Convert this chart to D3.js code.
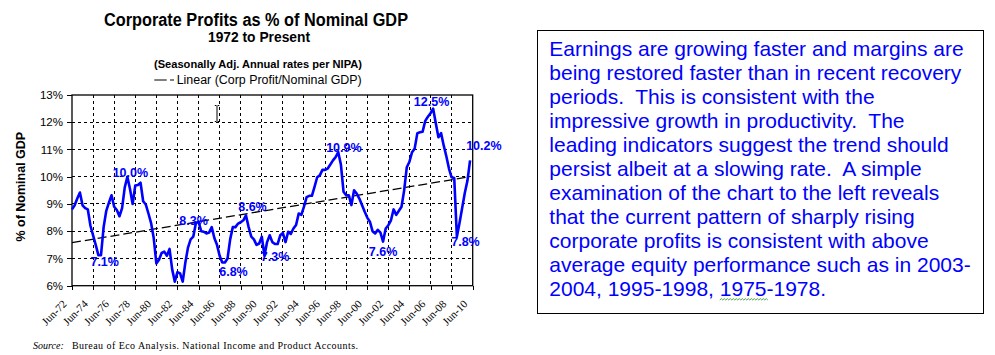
<!DOCTYPE html>
<html><head><meta charset="utf-8">
<script src="https://cdn.jsdelivr.net/npm/d3@7"></script>
<style>
body{margin:0;background:#fff;}
svg{display:block;}
</style></head>
<body>
<svg id="c" width="995" height="355"></svg>
<script>
// ---------------- data ----------------
const xTickLabels = ["Jun-72","Jun-74","Jun-76","Jun-78","Jun-80","Jun-82","Jun-84","Jun-86","Jun-88","Jun-90",
  "Jun-92","Jun-94","Jun-96","Jun-98","Jun-00","Jun-02","Jun-04","Jun-06","Jun-08","Jun-10"];
// quarterly corporate profits as % of nominal GDP, starting Jun-72
const profitPct = [
  8.8, 8.95, 9.2, 9.42, 8.95, 8.85, 8.8, 8.2,
  7.85, 7.5, 7.12, 7.12, 8.15, 8.75, 9.05, 9.32,
  8.9, 8.78, 8.55, 8.85, 9.6, 10.0, 9.55, 9.0,
  9.68, 9.7, 9.78, 9.1, 8.98, 8.65, 8.3, 7.75,
  6.82, 6.95, 7.2, 7.25, 7.1, 7.35, 6.6, 6.15,
  6.5, 6.45, 6.15, 6.85, 7.4, 7.7, 7.8, 8.3,
  8.35, 8.0, 7.98, 7.92, 7.95, 8.15, 7.75, 7.5,
  7.1, 6.85, 6.85, 7.0, 7.7, 8.15, 8.15, 8.28,
  8.33, 8.4, 8.58, 8.15, 7.8, 7.7, 7.5, 7.55,
  7.8, 7.1, 7.6, 7.85, 7.6, 7.53, 7.53, 7.85,
  7.93, 7.6, 7.98, 7.9, 8.1, 8.23, 8.65, 8.6,
  8.9, 9.25, 9.3, 9.3, 9.63, 9.98, 10.05, 10.25,
  10.25, 10.3, 10.45, 10.6, 10.72, 10.9, 10.45, 9.45,
  9.32, 9.32, 8.96, 9.5, 9.38, 9.2, 8.96, 8.72,
  8.5, 8.35, 8.0, 7.92, 8.05, 7.95, 7.62, 8.1,
  8.22, 8.4, 8.8, 8.6, 8.75, 8.9, 9.5, 10.35,
  10.55, 10.9, 11.04, 11.6, 11.63, 11.65, 12.05, 12.2,
  12.33, 12.5, 11.96, 11.45, 11.6, 11.15, 10.75, 10.3,
  9.98, 9.95, 7.8, 8.3, 8.85, 9.4, 9.85, 10.6
];
// linear trend line endpoints (first and last quarter)
const trendPct = [7.58, 10.0];
const yTicks = [6, 7, 8, 9, 10, 11, 12, 13];
const peakLabels = ["7.1%","10.0%","8.3%","8.6%","6.8%","7.3%","10.9%","7.6%","12.5%","7.8%","10.2%"];
const peakIdx    = [11, 21, 48, 66, 58, 73, 101, 118, 137, 146, 151];
const peakVal    = [7.1, 10.0, 8.3, 8.6, 6.8, 7.3, 10.9, 7.6, 12.5, 7.8, 10.2];
const noteLines = [
  "Earnings are growing faster and margins are",
  "being restored faster than in recent recovery",
  "periods.  This is consistent with the",
  "impressive growth in productivity.  The",
  "leading indicators suggest the trend should",
  "persist albeit at a slowing rate.  A simple",
  "examination of the chart to the left reveals",
  "that the current pattern of sharply rising",
  "corporate profits is consistent with above",
  "average equity performance such as in 2003-",
  "2004, 1995-1998, 1975-1978."
];

// ---------------- layout ----------------
const svg = d3.select("#c");
const L = 72, R = 472.7, T = 95, B = 285.7;
const sans = "'Liberation Sans', Arial, sans-serif";
const serif = "'Liberation Serif', 'Times New Roman', serif";
const blue = "#0000FF";

const nQ = (xTickLabels.length - 1) * 8;
const x = d3.scaleLinear().domain([0, nQ]).range([L, R]);
const y = d3.scaleLinear().domain([6, 13]).range([B, T]);
const xTickIdx = xTickLabels.map((d, i) => i * 8);

// titles
svg.append("text").attr("x", 256).attr("y", 26).attr("text-anchor", "middle")
  .attr("font-family", sans).attr("font-weight", "bold").attr("font-size", 18)
  .attr("textLength", 304).attr("lengthAdjust", "spacingAndGlyphs")
  .text("Corporate Profits as % of Nominal GDP");
svg.append("text").attr("x", 259).attr("y", 42).attr("text-anchor", "middle")
  .attr("font-family", sans).attr("font-weight", "bold").attr("font-size", 14)
  .attr("textLength", 102).attr("lengthAdjust", "spacingAndGlyphs")
  .text("1972 to Present");
svg.append("text").attr("x", 258).attr("y", 67.5).attr("text-anchor", "middle")
  .attr("font-family", sans).attr("font-weight", "bold").attr("font-size", 11.5)
  .attr("textLength", 208).attr("lengthAdjust", "spacingAndGlyphs")
  .text("(Seasonally Adj. Annual rates per NIPA)");

// legend
svg.append("line").attr("x1", 154.3).attr("x2", 174).attr("y1", 80).attr("y2", 80)
  .attr("stroke", "#000").attr("stroke-width", 1).attr("stroke-dasharray", "12.4,3.4,4,10");
svg.append("text").attr("x", 176.7).attr("y", 84)
  .attr("font-family", sans).attr("font-size", 12.5)
  .attr("textLength", 185).attr("lengthAdjust", "spacingAndGlyphs")
  .text("Linear (Corp Profit/Nominal GDP)");

// gridlines
const g = svg.append("g");
g.append("g").selectAll("line").data(yTicks.filter(v => v > 6 && v < 13)).join("line")
  .attr("x1", L).attr("x2", R).attr("y1", d => y(d)).attr("y2", d => y(d))
  .attr("stroke", "#000").attr("stroke-width", 1).attr("stroke-dasharray", "3,3")
  .attr("shape-rendering", "crispEdges");
g.append("g").selectAll("line").data(xTickIdx.filter(i => i > 0 && i < nQ)).join("line")
  .attr("x1", d => x(d)).attr("x2", d => x(d)).attr("y1", T).attr("y2", B)
  .attr("stroke", "#000").attr("stroke-width", 1).attr("stroke-dasharray", "3,3")
  .attr("shape-rendering", "crispEdges");

// axes
const yAxis = svg.append("g").attr("transform", `translate(${L},0)`)
  .call(d3.axisLeft(y).tickValues(yTicks).tickFormat(d => d + "%").tickSize(5).tickPadding(4));
yAxis.select(".domain").remove();
yAxis.selectAll("line").attr("stroke", "#000").attr("shape-rendering", "crispEdges");
yAxis.selectAll("text").attr("font-family", sans).attr("font-size", 11.5).attr("fill", "#000");

const xAxis = svg.append("g").attr("transform", `translate(0,${B})`)
  .call(d3.axisBottom(x).tickValues(xTickIdx).tickFormat((d, i) => xTickLabels[i]).tickSize(4));
xAxis.select(".domain").remove();
xAxis.selectAll("line").attr("stroke", "#000").attr("shape-rendering", "crispEdges");
xAxis.selectAll("text")
  .attr("font-family", serif).attr("font-size", 11).attr("fill", "#000")
  .attr("text-anchor", "end").attr("dy", null).attr("y", null)
  .attr("transform", "translate(-5,19) rotate(-45)");

// frame
svg.append("rect").attr("x", L).attr("y", T).attr("width", R - L).attr("height", B - T)
  .attr("fill", "none").attr("stroke", "#000").attr("stroke-width", 1.3);

// y title
svg.append("text").attr("transform", `translate(25,186.7) rotate(-90)`).attr("text-anchor", "middle")
  .attr("font-family", sans).attr("font-weight", "bold").attr("font-size", 12.5)
  .text("% of Nominal GDP");

// trend line
svg.append("line")
  .attr("x1", x(0)).attr("y1", y(trendPct[0]))
  .attr("x2", x(profitPct.length - 1)).attr("y2", y(trendPct[1]))
  .attr("stroke", "#000").attr("stroke-width", 1.3).attr("stroke-dasharray", "9,4");

// data line
const line = d3.line().x((d, i) => x(i)).y(d => y(d));
svg.append("path").datum(profitPct).attr("d", line)
  .attr("fill", "none").attr("stroke", blue).attr("stroke-width", 2.6)
  .attr("stroke-linejoin", "round");

// data labels
const labelOffsets = [[3.7,10.4],[3,0.3],[-5,2],[6.5,-3.4],[8.6,11.6],[10.6,11.2],[5.6,-0.7],[0,13.4],[-1.6,-3.1],[8.6,9.8],[13.8,-20.8]];
svg.append("g").selectAll("text").data(peakLabels).join("text")
  .attr("x", (d, i) => x(peakIdx[i]) + labelOffsets[i][0])
  .attr("y", (d, i) => y(peakVal[i]) + labelOffsets[i][1])
  .attr("text-anchor", "middle")
  .attr("font-family", sans).attr("font-weight", "bold").attr("font-size", 12.5)
  .attr("fill", blue).text(d => d);

// I-beam cursor artifact
svg.append("path")
  .attr("d", "M214.8,105.5 H216.5 M217.5,105.5 H219.3 M217,106 V121 M214.8,121.5 H216.5 M217.5,121.5 H219.3")
  .attr("stroke", "#000").attr("stroke-width", 1).attr("fill", "none");

// source
svg.append("text").attr("x", 33).attr("y", 349)
  .attr("font-family", serif).attr("font-style", "italic").attr("font-size", 10)
  .text("Source:");
svg.append("text").attr("x", 72).attr("y", 349)
  .attr("font-family", serif).attr("font-size", 10)
  .attr("textLength", 286).attr("lengthAdjust", "spacing")
  .text("Bureau of Eco Analysis. National Income and Product Accounts.");

// note box
svg.append("rect").attr("x", 537.5).attr("y", 30.5).attr("width", 446).attr("height", 283)
  .attr("fill", "#fff").attr("stroke", "#000").attr("stroke-width", 1);
const noteText = svg.append("g").selectAll("text").data(noteLines).join("text")
  .attr("x", 549.3).attr("y", (d, i) => 55.7 + i * 24)
  .attr("font-family", sans).attr("font-size", 21).attr("fill", blue)
  .attr("xml:space", "preserve").style("white-space", "pre")
  .text(d => d);

// spell-check squiggle under "1975"
const last = noteText.nodes()[noteLines.length - 1];
const s = noteLines[noteLines.length - 1];
const p0 = s.indexOf("1975");
const sx0 = 549.3 + last.getSubStringLength(0, p0);
const sx1 = sx0 + last.getSubStringLength(p0, 4);
let sq = `M${sx0},300`;
for (let xx = sx0, k = 0; xx < sx1; xx += 1.5, k++) sq += ` L${xx + 1.5},${k % 2 ? 300 : 298.6}`;
svg.append("path").attr("d", sq).attr("fill", "none").attr("stroke", "#3a9a3a").attr("stroke-width", 0.9);
</script>
</body></html>
